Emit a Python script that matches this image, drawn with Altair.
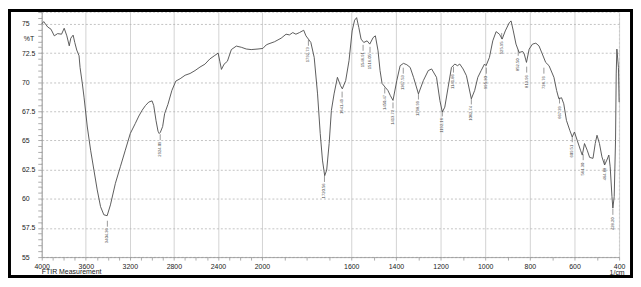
import altair as alt
import pandas as pd

# Spectrum (wavenumber in 1/cm, transmittance in %T)
wavenumber = [
    4000, 3982, 3946, 3916, 3886, 3856, 3820, 3796, 3772, 3750,
    3736, 3715, 3700, 3682, 3661, 3652, 3631, 3616, 3586, 3556,
    3526, 3496, 3466, 3436, 3406, 3376, 3331, 3286, 3241, 3196,
    3151, 3118, 3088, 3058, 3028, 2998, 2983, 2962, 2944, 2933,
    2923, 2902, 2884, 2854, 2818, 2782, 2743, 2698, 2653, 2608,
    2563, 2518, 2473, 2428, 2398, 2383, 2368, 2344, 2314, 2278,
    2233, 2188, 2143, 2098, 2036, 1996, 1981, 1973, 1944, 1914,
    1892, 1877, 1862, 1848, 1832, 1813, 1803, 1792, 1781, 1766,
    1751, 1739, 1729, 1719, 1710, 1699, 1689, 1677, 1662, 1648,
    1640, 1625, 1610, 1596, 1585, 1576, 1566, 1556, 1544, 1529,
    1517, 1502, 1492, 1480, 1471, 1462, 1448, 1436, 1425, 1413,
    1396, 1381, 1366, 1351, 1336, 1321, 1299, 1277, 1255, 1240,
    1218, 1203, 1192, 1181, 1166, 1151, 1136, 1124, 1114, 1099,
    1084, 1062, 1047, 1033, 1018, 1003, 996, 981, 966, 951,
    936, 924, 910, 892, 884, 874, 862, 848, 832, 825,
    815, 803, 788, 773, 759, 744, 729, 714, 692, 680,
    670, 658, 648, 636, 621, 610, 600, 588, 573, 565,
    555, 543, 532, 517, 507, 499, 488, 477, 465, 455,
    446, 440, 432, 428, 422, 416, 413, 410, 403, 400,
]
transmittance = [
    75.0, 75.2, 74.74, 74.55, 73.98, 74.17, 74.12, 74.63, 73.98, 73.12,
    73.78, 74.04, 73.41, 72.76, 72.27, 71.27, 69.86, 68.72, 66.16, 64.17,
    62.46, 60.76, 59.33, 58.63, 58.55, 59.48, 61.33, 62.75, 64.17, 65.6,
    66.45, 67.1, 67.6, 68.0, 68.3, 68.4, 68.0, 66.7, 65.8, 65.6,
    65.7, 66.2, 67.3, 68.1, 69.3, 70.1, 70.3, 70.6, 70.75, 71.0,
    71.3, 71.55, 72.0, 72.3, 72.5, 71.8, 71.1, 71.55, 71.8, 72.8,
    73.1, 73.0, 72.85, 72.8, 72.85, 72.9, 73.2, 73.27, 73.47, 73.78,
    74.12, 74.06, 74.26, 74.12, 74.26, 74.46, 73.98, 73.7, 73.41, 72.13,
    69.0, 65.6, 63.32, 61.98, 62.47, 64.74, 67.58, 69.0, 70.42, 69.71,
    69.43, 70.14, 71.85, 74.4, 75.32, 75.54, 74.69, 73.7, 73.41, 73.55,
    73.27, 73.83, 73.98, 72.7, 71.0, 69.9, 69.57, 69.3, 68.86, 68.44,
    70.14, 71.42, 71.62, 71.5, 71.27, 70.42, 69.0, 70.14, 71.0, 71.14,
    70.42, 68.44, 67.44, 67.86, 69.57, 71.27, 71.56, 71.42, 71.56, 71.14,
    70.56, 68.58, 69.3, 70.42, 71.0, 71.56, 71.42, 72.13, 73.55, 74.34,
    74.12, 73.7, 74.4, 75.11, 75.26, 74.4, 73.27, 72.55, 72.64, 72.42,
    71.7, 72.84, 73.27, 73.35, 73.12, 72.42, 71.7, 71.42, 70.42, 69.29,
    68.58, 68.67, 68.15, 66.73, 65.88, 65.31, 65.73, 65.03, 64.17, 63.75,
    64.74, 64.17, 63.55, 63.47, 64.74, 65.45, 64.74, 63.6, 62.9, 63.32,
    63.75, 62.75, 60.19, 59.2, 60.19, 65.03, 70.71, 72.84, 71.27, 68.29,
]

# Peak annotations
peak_wn = [3404, 2924, 1792, 1720, 1641, 1547, 1516, 1450, 1413, 1367, 1299, 1192,
           1142, 1062, 995, 926, 852, 814, 737, 667, 610, 561, 465, 428]
peak_text = ["3404.36", "2924.09", "1792.73", "1720.56", "1641.49", "1546.91",
             "1516.05", "1450.47", "1413.72", "1367.53", "1298.99", "1192.16",
             "1141.86", "1062.74", "995.30", "925.95", "852.50", "813.96",
             "736.76", "667.39", "609.51", "561.30", "464.88", "428.20"]
peak_label_T = [56.84, 64.26, 72.36, 60.68, 67.92, 71.93, 71.76, 68.27, 66.99, 69.97,
                67.75, 66.30, 70.06, 67.33, 69.97, 72.95, 71.50, 70.06, 69.97, 67.41,
                64.09, 62.55, 62.13, 57.86]

x_major = [4000, 3600, 3200, 2800, 2400, 2000, 1600, 1400, 1200, 1000, 800, 600, 400]
x_ticks = list(range(4000, 399, -100))
y_ticks = [55 + 0.5 * i for i in range(43)]

spec_df = pd.DataFrame({"wn": wavenumber, "T": transmittance})
peak_df = pd.DataFrame({"wn": peak_wn, "label": peak_text, "T": peak_label_T})

major_str = "[" + ",".join(str(v) for v in x_major) + "]"
FONT = "Liberation Sans"

x_scale = alt.Scale(domain=[4000, 2000, 400], range=[0, 222, 582], nice=False, zero=False)
y_scale = alt.Scale(domain=[55, 76.02], nice=False, zero=False)

x_axis = alt.Axis(
    values=x_ticks, title=None, format="d",
    labelExpr=f"indexof({major_str}, datum.value) >= 0 ? datum.label : ''",
    gridOpacity={"condition": {"test": f"indexof({major_str}, datum.value) >= 0", "value": 1}, "value": 0},
    gridColor="#c8c8c8", gridWidth=0.8,
    tickSize=3, tickColor="#888", tickWidth=0.7,
    labelPadding=2, labelFontSize=7, labelColor="#222", labelFont=FONT,
    domainColor="#999", domainWidth=0.8,
    labelOverlap=False, labelFlush=False,
)
y_axis = alt.Axis(
    values=y_ticks, title=None,
    labelExpr="datum.value % 2.5 == 0 ? format(datum.value, '~g') : ''",
    gridOpacity={"condition": {"test": "datum.value % 2.5 == 0", "value": 1}, "value": 0},
    gridDash=[2, 2], gridColor="#b5b5b5", gridWidth=0.8,
    tickSize=4, tickColor="#888", tickWidth=0.7,
    labelAlign="left", labelPadding=16.5, labelFontSize=7, labelColor="#222", labelFont=FONT,
    domainColor="#999", domainWidth=0.8, labelOverlap=False, labelFlush=False,
)

X = alt.X("wn:Q", scale=x_scale, axis=x_axis)
Y = alt.Y("T:Q", scale=y_scale, axis=y_axis)

line = alt.Chart(spec_df).mark_line(color="#4a4a4a", strokeWidth=0.9).encode(x=X, y=Y)

ticks = alt.Chart(peak_df).mark_rule(color="#555", strokeWidth=0.6, yOffset=-9, y2Offset=-15).encode(
    x=X, y=Y, y2=alt.Y2("T:Q"),
)

labels = alt.Chart(peak_df).mark_text(
    angle=270, fontSize=4.2, color="#444", align="center", baseline="middle", font=FONT
).encode(x=X, y=Y, text="label:N")

one = pd.DataFrame({"a": [0]})
pct = alt.Chart(one).mark_text(align="left", baseline="middle", fontSize=7, color="#222", font=FONT).encode(
    x=alt.value(-18), y=alt.value(27), text=alt.value("%T"))
ftir = alt.Chart(one).mark_text(align="left", baseline="middle", fontSize=7, color="#222", font=FONT).encode(
    x=alt.value(0), y=alt.value(262.5), text=alt.value("FTIR Measurement"))
unit = alt.Chart(one).mark_text(align="center", baseline="middle", fontSize=7, color="#222", font=FONT).encode(
    x=alt.value(580), y=alt.value(263), text=alt.value("1/cm"))
border = alt.Chart(one).mark_rect(fillOpacity=0, stroke="black", strokeWidth=3).encode(
    x=alt.value(-32.5), x2=alt.value(594.5), y=alt.value(-1.5), y2=alt.value(266.5))

chart = alt.layer(line, ticks, labels, pct, ftir, unit, border).properties(
    width=582, height=247,
    autosize=alt.AutoSizeParams(type="none"),
    padding={"left": 34, "top": 3, "right": 14, "bottom": 21},
    background="white",
).configure_view(stroke="#c0c0c0", strokeDash=[2, 2], strokeWidth=0.8)

chart.save("out.html", embed_options={"renderer": "svg", "actions": False})
